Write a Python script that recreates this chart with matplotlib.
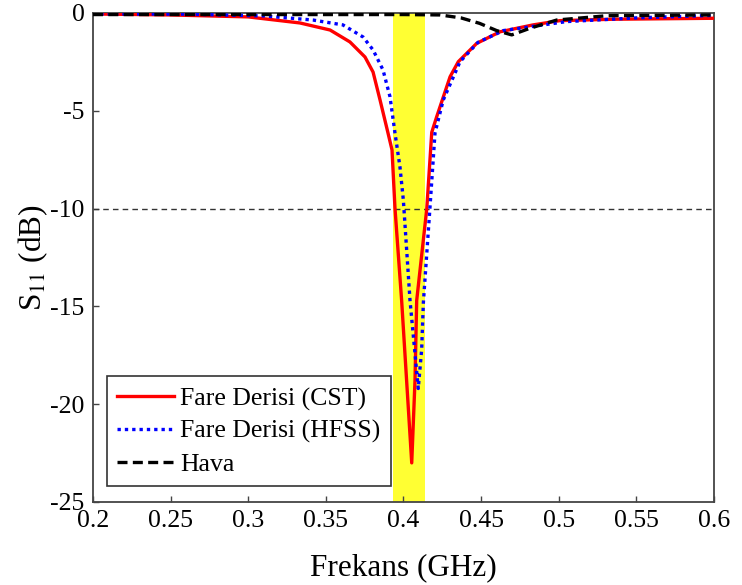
import matplotlib
matplotlib.use("Agg")
import matplotlib.pyplot as plt

plt.rcParams['font.family'] = ['Liberation Serif', 'DejaVu Serif']
plt.rcParams['mathtext.fontset'] = 'stix'

# Fare Derisi (CST)
cst_f = [0.200, 0.250, 0.300, 0.3333, 0.3527, 0.3655, 0.3752, 0.3804, 0.3849,
         0.3900, 0.3926, 0.3945, 0.3988, 0.4053, 0.4074, 0.4085, 0.4150, 0.4182,
         0.4214, 0.4300, 0.4353, 0.4472, 0.4622, 0.4834, 0.5008, 0.5350, 0.600]
cst_s = [-0.05, -0.10, -0.20, -0.51, -0.87, -1.48, -2.25, -3.02, -4.45,
         -6.13, -7.00, -9.97, -14.7, -23.0, -18.8, -14.7, -10.0, -6.10,
         -5.30, -3.26, -2.49, -1.55, -0.96, -0.61, -0.39, -0.32, -0.27]

# Fare Derisi (HFSS)
hfss_f = [0.200, 0.260, 0.3100, 0.3417, 0.3610, 0.3740, 0.3804, 0.3868, 0.3913,
          0.3945, 0.3977, 0.3999, 0.4042, 0.4095, 0.4117, 0.4128, 0.4170, 0.4203,
          0.4256, 0.4364, 0.4480, 0.4643, 0.5050, 0.5500, 0.600]
hfss_s = [-0.05, -0.06, -0.15, -0.36, -0.61, -1.23, -1.89, -2.91, -4.28,
          -6.13, -7.86, -9.56, -14.7, -19.2, -17.2, -14.8, -10.0, -6.13,
          -4.45, -2.49, -1.50, -0.90, -0.44, -0.25, -0.12]

# Hava
hava_f = [0.200, 0.300, 0.400, 0.4235, 0.4370, 0.4490, 0.4600, 0.4697, 0.4815,
          0.4987, 0.5310, 0.600]
hava_s = [-0.08, -0.08, -0.08, -0.10, -0.25, -0.53, -0.90, -1.12, -0.78,
          -0.36, -0.14, -0.10]

band = (0.3935, 0.414)
ref_level = -10

xticks = [0.2, 0.25, 0.3, 0.35, 0.4, 0.45, 0.5, 0.55, 0.6]
xticklabels = ['0.2', '0.25', '0.3', '0.35', '0.4', '0.45', '0.5', '0.55', '0.6']
yticks = [0, -5, -10, -15, -20, -25]
yticklabels = ['0', '-5', '-10', '-15', '-20', '-25']

fig = plt.figure(figsize=(7.42, 5.85), dpi=100)
ax = fig.add_axes([0.1253, 0.1419, 0.8370, 0.8359])

ax.axvspan(band[0], band[1], color='#ffff33', zorder=1, lw=0)
ax.axhline(ref_level, color='#333333', lw=1.0, ls=(0, (4, 3)), zorder=2)

ax.plot(cst_f, cst_s, color='#ff0000', lw=2.4, ls='-', label='Fare Derisi (CST)', zorder=3)
ax.plot(hfss_f, hfss_s, color='#0000ff', lw=2.4, ls=(0, (1, 1.2)), label='Fare Derisi (HFSS)', zorder=4)
ax.plot(hava_f, hava_s, color='#000000', lw=2.4, ls=(0, (3, 1.6)), label='Hava', zorder=5)

ax.set_xlim(0.2, 0.6)
ax.set_ylim(-25, 0)
ax.set_xticks(xticks)
ax.set_xticklabels(xticklabels)
ax.set_yticks(yticks)
ax.set_yticklabels(yticklabels)
ax.tick_params(direction='in', length=4, width=1, labelsize=18.5, color='#444444', pad=6)

for s in ax.spines.values():
    s.set_color('#444444')
    s.set_linewidth(1.3)

ax.set_xlabel('Frekans (GHz)', fontsize=22.5, labelpad=15)
ax.set_ylabel('S$_{11}$ (dB)', fontsize=22.5, labelpad=0)

leg = ax.legend(loc='lower left', bbox_to_anchor=(0.022, 0.032), fontsize=18.5,
                handlelength=2.2, handletextpad=0.25, labelspacing=0.36,
                borderpad=0.42, borderaxespad=0, frameon=True, fancybox=False)
leg.get_frame().set_edgecolor('#333333')
leg.get_frame().set_linewidth(1.2)
leg.get_frame().set_alpha(1)

fig.savefig('out.png', dpi=100)
